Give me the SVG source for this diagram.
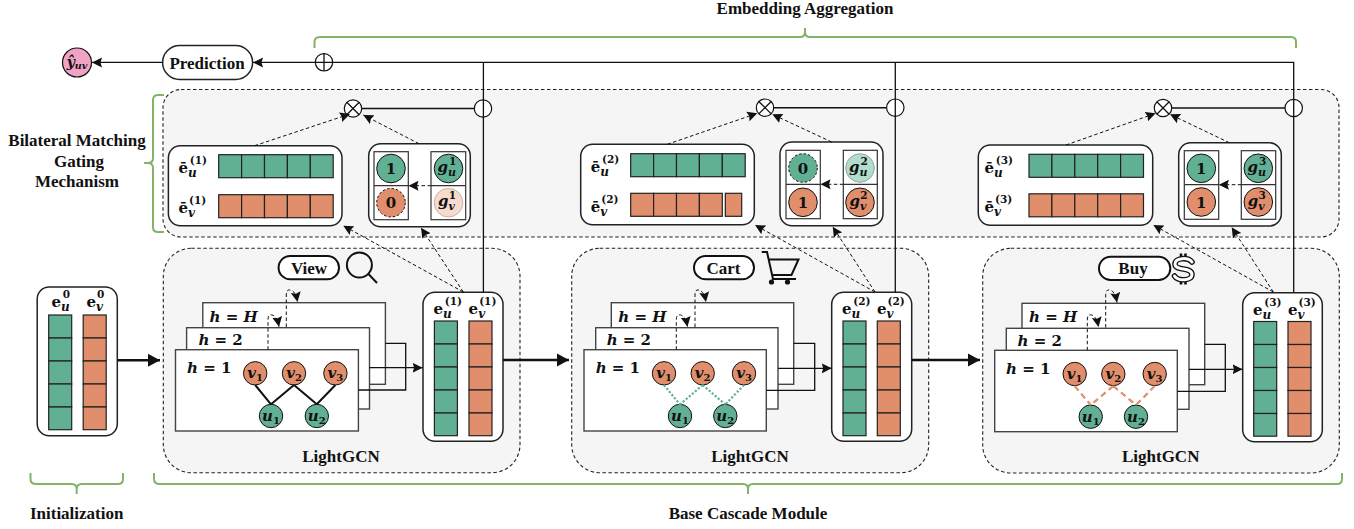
<svg xmlns="http://www.w3.org/2000/svg" xmlns:xlink="http://www.w3.org/1999/xlink" width="1354" height="529" viewBox="0 0 1354 529">
<style>
text{font-family:"Liberation Serif",serif;font-weight:bold;fill:#111;font-size:17px;text-anchor:middle}
.m,.ml{font-family:"DejaVu Serif",serif;font-size:15px}
.ml{text-anchor:start}
.i{font-style:italic}
.hl{font-family:"DejaVu Serif",serif;font-style:italic;font-size:15px;text-anchor:start}
.up{font-style:normal}
.sb{font-size:12px;font-style:italic}
.sp{font-size:10.5px;font-style:normal}
.c{font-family:"DejaVu Serif",serif;font-size:15px}
.panel{fill:#f5f5f5;stroke:#222;stroke-width:1.1;stroke-dasharray:3.5 2.5}
.card{fill:#fff;stroke:#222;stroke-width:1.5}
.layer{fill:#fff;stroke:#444;stroke-width:1.4}
.pill{fill:#fff;stroke:#111;stroke-width:2}
.G{fill:#62b094}.O{fill:#e08e6b}
.cell{stroke:#222;stroke-width:1.2}
.gf{fill:#62b094;stroke:#111;stroke-width:1}
.of{fill:#e08e6b;stroke:#111;stroke-width:1}
.dash{stroke-dasharray:2.5 2}
.fg{fill:#b2dccb;stroke:#8fa89c;stroke-width:1}
.fo{fill:#f6dbce;stroke:#c9b0a5;stroke-width:1}
.slot{fill:none;stroke:#333;stroke-width:1.2}
.op{fill:#fff;stroke:#111;stroke-width:1.2}
.brace{fill:none;stroke:#82b366;stroke-width:2}
.ln{fill:none;stroke:#111;stroke-width:1.3}
.ln2{fill:none;stroke:#111;stroke-width:2.6}
.ds{fill:none;stroke:#111;stroke-width:1;stroke-dasharray:3.5 2.5}
.sol{fill:none;stroke:#111;stroke-width:1.4}
.ed{fill:none;stroke:#111;stroke-width:2}
.edg{fill:none;stroke:#62b094;stroke-width:2.2;stroke-dasharray:2.2 1.8}
.edo{fill:none;stroke:#e08e6b;stroke-width:2.2;stroke-dasharray:6 4}
.icon{fill:none;stroke:#111;stroke-width:2}
</style>
<defs>
<marker id="a" markerUnits="userSpaceOnUse" markerWidth="11" markerHeight="11" refX="10" refY="5.5" orient="auto"><path d="M0,0.5 L10,5.5 L0,10.5 L1.5,5.5z" fill="#111"/></marker>
<marker id="b" markerUnits="userSpaceOnUse" markerWidth="13" markerHeight="14" refX="12" refY="7" orient="auto"><path d="M0,0.5 L12,7 L0,13.5z" fill="#111"/></marker>
<g id="col"><rect class="cell" width="23" height="23"/><rect class="cell" y="23" width="23" height="23"/><rect class="cell" y="46" width="23" height="23"/><rect class="cell" y="69" width="23" height="23"/><rect class="cell" y="92" width="23" height="22.7"/></g>
<g id="row"><rect class="cell" width="22.9" height="23"/><rect class="cell" x="22.9" width="22.9" height="23"/><rect class="cell" x="45.8" width="22.9" height="23"/><rect class="cell" x="68.7" width="22.9" height="23"/><rect class="cell" x="91.6" width="22.9" height="23"/></g>
</defs>

<g id="title"><text x="805" y="14">Embedding Aggregation</text></g>
<g id="brace-top"><path class="brace" d="M314.5,48V42Q314.5,37 320,37H800Q805,37 805,32V28M805,32Q805,37 810,37H1291Q1296,37 1296,42V48"/></g>
<g id="brace-left"><path class="brace" d="M164,95H158Q153,95 153,100V158Q153,163 148,163H144M148,163Q153,163 153,168V227Q153,232 158,232H164"/></g>
<g id="brace-init"><path class="brace" d="M30.5,473V479Q30.5,484 36,484H71.7Q76.7,484 76.7,489V494M76.7,489Q76.7,484 81.7,484H118Q123,484 123,479V473"/></g>
<g id="brace-base"><path class="brace" d="M154,473V479Q154,484 160,484H743Q748,484 748,489V494M748,489Q748,484 753,484H1337Q1342,484 1342,479V473"/></g>
<g id="label-bmgm"><text x="77" y="146">Bilateral Matching</text><text x="79" y="167">Gating</text><text x="77" y="187">Mechanism</text></g>
<g id="label-init"><text x="76.7" y="518.5">Initialization</text></g>
<g id="label-base"><text x="748" y="518.5">Base Cascade Module</text></g>

<g id="y-hat"><circle cx="77" cy="62.5" r="14.5" fill="#f0a3c5" stroke="#111" stroke-width="1.2"/><text class="c" x="77" y="67" style="font-size:14px"><tspan class="i">ŷ</tspan><tspan class="sb" dy="2" style="font-size:9.5px">uv</tspan></text></g>
<g id="prediction"><rect class="card" x="162.6" y="45.5" width="90" height="34" rx="17"/><text x="207" y="69">Prediction</text></g>
<g id="oplus"><circle class="op" cx="324" cy="62.3" r="8.7"/><path class="ln" d="M324,53.6V71M315.3,62.3H332.7"/></g>

<g id="gating-panel"><rect class="panel" x="163" y="89.5" width="1176" height="147.5" rx="18"/></g>
<g id="gcn-panel-1"><rect class="panel" x="163.3" y="248.3" width="356.7" height="224.4" rx="28"/><text x="341" y="461.5">LightGCN</text></g>
<g id="gcn-panel-2"><rect class="panel" x="571.7" y="248.3" width="357" height="224.4" rx="28"/><text x="750" y="461.5">LightGCN</text></g>
<g id="gcn-panel-3"><rect class="panel" x="982.7" y="248.3" width="356.6" height="224.7" rx="28"/><text x="1160.7" y="461.5">LightGCN</text></g>

<g id="init">
<rect class="card" x="37.2" y="287" width="80.1" height="148.7" rx="12"/>
<use href="#col" class="G" x="48.7" y="315"/><use href="#col" class="O" x="83.2" y="315"/>
<text class="ml" x="51.5" y="306.5">e<tspan class="sb" dy="4">u</tspan><tspan class="sp" dx="-7" dy="-13">0</tspan></text>
<text class="ml" x="86.5" y="306.5">e<tspan class="sb" dy="4">v</tspan><tspan class="sp" dx="-6" dy="-13">0</tspan></text>
</g>

<g id="view"><rect class="pill" x="278.6" y="256" width="60.4" height="23.3" rx="11.6"/><text x="309" y="273.5">View</text></g>
<g id="view-icon"><circle class="icon" cx="359.4" cy="265" r="12.5"/><path class="icon" d="M368,273.5L377,283"/></g>
<g id="layers-1">
<rect class="layer" x="202.8" y="302.7" width="182.6" height="81.6"/><text class="hl" x="209.6" y="321.7">h = H</text>
<rect class="layer" x="186.6" y="327.7" width="182.9" height="81.3"/><text class="hl" x="198.4" y="345">h = <tspan class="up">2</tspan></text>
<rect class="layer" x="175.5" y="349.7" width="182.9" height="81.3"/><text class="hl" x="187" y="372.7">h = <tspan class="up">1</tspan></text>
</g>
<g id="graph-1">
<circle class="of" cx="255.2" cy="373.3" r="11.7"/><text class="c i" x="255.2" y="378">v<tspan class="up" dy="3" style="font-size:10px">1</tspan></text>
<circle class="of" cx="294" cy="373.3" r="11.7"/><text class="c i" x="294" y="378">v<tspan class="up" dy="3" style="font-size:10px">2</tspan></text>
<circle class="of" cx="335.4" cy="373.3" r="11.7"/><text class="c i" x="335.4" y="378">v<tspan class="up" dy="3" style="font-size:10px">3</tspan></text>
<circle class="gf" cx="271" cy="416" r="11.7"/><text class="c i" x="271" y="421">u<tspan class="up" dy="3" style="font-size:10px">1</tspan></text>
<circle class="gf" cx="316.8" cy="416" r="11.7"/><text class="c i" x="316.8" y="421">u<tspan class="up" dy="3" style="font-size:10px">2</tspan></text>
</g>
<g id="emb-1">
<rect class="card" x="423" y="292.3" width="80" height="149" rx="12"/>
<use href="#col" class="G" x="434.4" y="321"/><use href="#col" class="O" x="469" y="321"/>
<text class="ml" x="433.4" y="314">e<tspan class="sb" dy="4">u</tspan><tspan class="sp" dx="-7" dy="-13">(1)</tspan></text>
<text class="ml" x="468.6" y="314">e<tspan class="sb" dy="4">v</tspan><tspan class="sp" dx="-6" dy="-13">(1)</tspan></text>
</g>
<g id="bar-card-1">
<rect class="card" x="168.4" y="145.7" width="173.6" height="80" rx="12"/>
<use href="#row" class="G" x="218.7" y="154.7"/><use href="#row" class="O" x="218.7" y="194.7"/>
<text class="ml" x="178.5" y="173">ē<tspan class="sb" dy="4">u</tspan><tspan class="sp" dx="-7" dy="-13">(1)</tspan></text>
<text class="ml" x="178.5" y="213">ē<tspan class="sb" dy="4">v</tspan><tspan class="sp" dx="-6" dy="-13">(1)</tspan></text>
</g>
<g id="gate-1">
<rect class="card" x="368.7" y="143.7" width="101.6" height="83" rx="12"/>
<rect class="slot" x="374" y="151.7" width="34.3" height="68"/><path class="slot" d="M374,185.7H408.3"/>
<rect class="slot" x="431" y="151.7" width="34.7" height="68"/><path class="slot" d="M431,185.7H465.7"/>
<circle class="gf" cx="391" cy="168.5" r="14.3"/><text class="c" x="391" y="174">1</text>
<circle class="of dash" cx="391" cy="202.7" r="14.3"/><text class="c" x="391" y="208">0</text>
<circle class="gf" cx="448.5" cy="168.5" r="14.3"/><text class="c" x="447" y="172"><tspan class="i">g</tspan><tspan class="sb" dy="4" style="font-size:11px">u</tspan><tspan class="sp" dx="-7" dy="-11">1</tspan></text>
<circle class="fo" cx="448.5" cy="202.7" r="14.3"/><text class="c" x="447" y="206"><tspan class="i">g</tspan><tspan class="sb" dy="4" style="font-size:11px">v</tspan><tspan class="sp" dx="-6" dy="-11">1</tspan></text>
</g>
<g id="otimes-1"><circle class="op" cx="353" cy="108.5" r="8.7"/><path class="ln" d="M346.8,102.3L359.2,114.7M359.2,102.3L346.8,114.7"/></g>
<g id="gate-node-1"><circle class="op" cx="483" cy="108.5" r="8.7"/></g>

<g id="cart"><rect class="pill" x="694" y="256" width="60" height="23.3" rx="11.6"/><text x="723.5" y="273.5">Cart</text></g>
<g id="cart-icon"><path class="icon" d="M761.7,252H767L773,279H796M768,259.5H798.5L791.5,275H772"/><circle cx="771.5" cy="282" r="2.6" fill="#111"/><circle cx="787.5" cy="282" r="2.6" fill="#111"/></g>
<g id="layers-2">
<rect class="layer" x="611.3" y="302.7" width="182.4" height="81.6"/><text class="hl" x="618.3" y="321.7">h = H</text>
<rect class="layer" x="595.7" y="327.7" width="182.3" height="81.3"/><text class="hl" x="606.7" y="345">h = <tspan class="up">2</tspan></text>
<rect class="layer" x="584" y="349.7" width="182.3" height="81.3"/><text class="hl" x="595.7" y="372.7">h = <tspan class="up">1</tspan></text>
</g>
<g id="graph-2">
<circle class="of" cx="664" cy="373.3" r="11.7"/><text class="c i" x="664" y="378">v<tspan class="up" dy="3" style="font-size:10px">1</tspan></text>
<circle class="of" cx="702.7" cy="373.3" r="11.7"/><text class="c i" x="702.7" y="378">v<tspan class="up" dy="3" style="font-size:10px">2</tspan></text>
<circle class="of" cx="744" cy="373.3" r="11.7"/><text class="c i" x="744" y="378">v<tspan class="up" dy="3" style="font-size:10px">3</tspan></text>
<circle class="gf" cx="680" cy="416" r="11.7"/><text class="c i" x="680" y="421">u<tspan class="up" dy="3" style="font-size:10px">1</tspan></text>
<circle class="gf" cx="725.3" cy="416" r="11.7"/><text class="c i" x="725.3" y="421">u<tspan class="up" dy="3" style="font-size:10px">2</tspan></text>
</g>
<g id="emb-2">
<rect class="card" x="831.7" y="292.3" width="80" height="149" rx="12"/>
<use href="#col" class="G" x="843" y="321"/><use href="#col" class="O" x="877.3" y="321"/>
<text class="ml" x="842" y="314">e<tspan class="sb" dy="4">u</tspan><tspan class="sp" dx="-7" dy="-13">(2)</tspan></text>
<text class="ml" x="877" y="314">e<tspan class="sb" dy="4">v</tspan><tspan class="sp" dx="-6" dy="-13">(2)</tspan></text>
</g>
<g id="bar-card-2">
<rect class="card" x="580.7" y="144.3" width="173.6" height="80.4" rx="12"/>
<use href="#row" class="G" x="630.7" y="153.7"/>
<g class="O"><rect class="cell" x="630.7" y="193.3" width="22.9" height="23"/><rect class="cell" x="653.6" y="193.3" width="22.9" height="23"/><rect class="cell" x="676.5" y="193.3" width="22.9" height="23"/><rect class="cell" x="699.4" y="193.3" width="22.9" height="23"/><rect class="cell" x="725.3" y="193.3" width="16.4" height="23"/></g>
<text class="ml" x="590.7" y="172.3">ē<tspan class="sb" dy="4">u</tspan><tspan class="sp" dx="-7" dy="-13">(2)</tspan></text>
<text class="ml" x="590.7" y="212">ē<tspan class="sb" dy="4">v</tspan><tspan class="sp" dx="-6" dy="-13">(2)</tspan></text>
</g>
<g id="gate-2">
<rect class="card" x="780" y="142" width="103" height="83.7" rx="12"/>
<rect class="slot" x="786" y="150.3" width="34.3" height="68.4"/><path class="slot" d="M786,184.3H820.3"/>
<rect class="slot" x="843.3" y="150.3" width="34" height="68.4"/><path class="slot" d="M843.3,184.3H877.3"/>
<circle class="gf dash" cx="803" cy="168" r="14.3"/><text class="c" x="803" y="173.5">0</text>
<circle class="of" cx="803" cy="202.3" r="14.3"/><text class="c" x="803" y="207.5">1</text>
<circle class="fg" cx="860" cy="168" r="14.3"/><text class="c" x="858.5" y="171.5"><tspan class="i">g</tspan><tspan class="sb" dy="4" style="font-size:11px">u</tspan><tspan class="sp" dx="-7" dy="-11">2</tspan></text>
<circle class="of" cx="860" cy="202.3" r="14.3"/><text class="c" x="858.5" y="205.5"><tspan class="i">g</tspan><tspan class="sb" dy="4" style="font-size:11px">v</tspan><tspan class="sp" dx="-6" dy="-11">2</tspan></text>
</g>
<g id="otimes-2"><circle class="op" cx="765" cy="107.7" r="8.7"/><path class="ln" d="M758.8,101.5L771.2,113.9M771.2,101.5L758.8,113.9"/></g>
<g id="gate-node-2"><circle class="op" cx="895.3" cy="107.7" r="8.7"/></g>

<g id="buy"><rect class="pill" x="1099" y="256.7" width="71.3" height="23.3" rx="11.6"/><text x="1133" y="274">Buy</text></g>
<g id="buy-icon"><path d="M1181,253.5V259M1185.5,253.5V259M1181,279V284.5M1185.5,279V284.5" fill="none" stroke="#111" stroke-width="2.6"/><path d="M1192,262C1188,257 1175,257.5 1175,264C1175,271.5 1192,266.5 1192,274.5C1192,281 1178,281.5 1174.5,276" fill="none" stroke="#111" stroke-width="5.6" stroke-linecap="round"/><path d="M1192,262C1188,257 1175,257.5 1175,264C1175,271.5 1192,266.5 1192,274.5C1192,281 1178,281.5 1174.5,276" fill="none" stroke="#fff" stroke-width="3" stroke-linecap="round"/></g>
<g id="layers-3">
<rect class="layer" x="1022" y="303.3" width="182.7" height="81.4"/><text class="hl" x="1029" y="321.7">h = H</text>
<rect class="layer" x="1006.3" y="328.3" width="182.7" height="81"/><text class="hl" x="1017.5" y="346">h = <tspan class="up">2</tspan></text>
<rect class="layer" x="994.7" y="350.3" width="182.6" height="81.4"/><text class="hl" x="1006" y="373.5">h = <tspan class="up">1</tspan></text>
</g>
<g id="graph-3">
<circle class="of" cx="1074.7" cy="374" r="11.7"/><text class="c i" x="1074.7" y="378.7">v<tspan class="up" dy="3" style="font-size:10px">1</tspan></text>
<circle class="of" cx="1113.3" cy="374" r="11.7"/><text class="c i" x="1113.3" y="378.7">v<tspan class="up" dy="3" style="font-size:10px">2</tspan></text>
<circle class="of" cx="1154.7" cy="374" r="11.7"/><text class="c i" x="1154.7" y="378.7">v<tspan class="up" dy="3" style="font-size:10px">3</tspan></text>
<circle class="gf" cx="1090.7" cy="416.7" r="11.7"/><text class="c i" x="1090.7" y="421.7">u<tspan class="up" dy="3" style="font-size:10px">1</tspan></text>
<circle class="gf" cx="1136" cy="416.7" r="11.7"/><text class="c i" x="1136" y="421.7">u<tspan class="up" dy="3" style="font-size:10px">2</tspan></text>
</g>
<g id="emb-3">
<rect class="card" x="1242.7" y="292.7" width="79.6" height="149" rx="12"/>
<use href="#col" class="G" x="1253.7" y="321.5"/><use href="#col" class="O" x="1288" y="321.5"/>
<text class="ml" x="1253" y="314.5">e<tspan class="sb" dy="4">u</tspan><tspan class="sp" dx="-7" dy="-13">(3)</tspan></text>
<text class="ml" x="1288" y="314.5">e<tspan class="sb" dy="4">v</tspan><tspan class="sp" dx="-6" dy="-13">(3)</tspan></text>
</g>
<g id="bar-card-3">
<rect class="card" x="978.3" y="145" width="174.4" height="80.3" rx="12"/>
<use href="#row" class="G" x="1029" y="154.3"/><use href="#row" class="O" x="1029" y="193.8"/>
<text class="ml" x="984.5" y="172.5">ē<tspan class="sb" dy="4">u</tspan><tspan class="sp" dx="-7" dy="-13">(3)</tspan></text>
<text class="ml" x="984.5" y="212">ē<tspan class="sb" dy="4">v</tspan><tspan class="sp" dx="-6" dy="-13">(3)</tspan></text>
</g>
<g id="gate-3">
<rect class="card" x="1178.7" y="142.7" width="102.6" height="83.3" rx="12"/>
<rect class="slot" x="1184.3" y="150.7" width="34.4" height="68.6"/><path class="slot" d="M1184.3,184.7H1218.7"/>
<rect class="slot" x="1241.3" y="150.7" width="34.4" height="68.6"/><path class="slot" d="M1241.3,184.7H1275.7"/>
<circle class="gf" cx="1201.3" cy="168.3" r="14.3"/><text class="c" x="1201.3" y="173.5">1</text>
<circle class="of" cx="1201.3" cy="202" r="14.3"/><text class="c" x="1201.3" y="207.5">1</text>
<circle class="gf" cx="1258.3" cy="168.3" r="14.3"/><text class="c" x="1256.8" y="171.5"><tspan class="i">g</tspan><tspan class="sb" dy="4" style="font-size:11px">u</tspan><tspan class="sp" dx="-7" dy="-11">3</tspan></text>
<circle class="of" cx="1258.3" cy="202" r="14.3"/><text class="c" x="1256.8" y="205.5"><tspan class="i">g</tspan><tspan class="sb" dy="4" style="font-size:11px">v</tspan><tspan class="sp" dx="-6" dy="-11">3</tspan></text>
</g>
<g id="otimes-3"><circle class="op" cx="1163" cy="108" r="8.7"/><path class="ln" d="M1156.8,101.8L1169.2,114.2M1169.2,101.8L1156.8,114.2"/></g>
<g id="gate-node-3"><circle class="op" cx="1293.7" cy="108" r="8.7"/></g>

<g id="connectors">
<path class="ln" d="M162.6,62.4H92" marker-end="url(#a)"/>
<path class="ln" d="M315.3,62.4H253" marker-end="url(#a)"/>
<path class="ln" d="M332.7,62.3H1293.7V292.7"/>
<path class="ln" d="M483.4,62.3V292.3"/>
<path class="ln" d="M895.3,62.3V292.3"/>
<path class="sol" d="M361.7,108.5H474.3"/>
<path class="sol" d="M773.7,107.7H886.6"/>
<path class="sol" d="M1171.7,108H1285"/>
<path class="ln2" d="M117.3,360.3H160" marker-end="url(#b)"/>
<path class="ln2" d="M503,360H569" marker-end="url(#b)"/>
<path class="ln2" d="M911.7,360H980" marker-end="url(#b)"/>

<path class="ds" d="M254.6,145.7L350,114" marker-end="url(#a)"/>
<path class="ds" d="M419,143.7L363.3,115" marker-end="url(#a)"/>
<path class="ds" d="M431,185.7H408.5" marker-end="url(#a)"/>
<path class="ds" d="M463.3,292L343.3,225.7" marker-end="url(#a)"/>
<path class="ds" d="M463.3,292L421,227.7" marker-end="url(#a)"/>
<path class="ds" d="M268,349.7V320Q268,314 272,315Q277,316 279,326.7" marker-end="url(#a)"/>
<path class="ds" d="M286.3,327V295Q286.3,289 290.5,290Q295.5,291 297.5,302" marker-end="url(#a)"/>
<path class="ln" d="M385.4,343.3H405.7V390H358.4"/>
<path class="ln" d="M369.5,367.7H422.6" marker-end="url(#a)"/>
<path class="ed" d="M255.2,385L271,404.3M294,385L271,404.3M294,385L316.8,404.3M335.4,385L316.8,404.3"/>

<path class="ds" d="M667.3,144.3L757.3,113.3" marker-end="url(#a)"/>
<path class="ds" d="M831.7,142L772.3,114.3" marker-end="url(#a)"/>
<path class="ds" d="M843.3,184.3H820.5" marker-end="url(#a)"/>
<path class="ds" d="M875,292L755,225" marker-end="url(#a)"/>
<path class="ds" d="M875,292L832.7,226.7" marker-end="url(#a)"/>
<path class="ds" d="M676.3,349.7V320Q676.3,314 680.5,315Q685.5,316 687.5,326.7" marker-end="url(#a)"/>
<path class="ds" d="M695,327V295Q695,289 699,290Q704,291 706,302" marker-end="url(#a)"/>
<path class="ln" d="M793.7,343.3H814.7V390.3H766.3"/>
<path class="ln" d="M778,368.3H831.7" marker-end="url(#a)"/>
<path class="edg" d="M664,385L680,404.5M702.7,385L680,404.5M702.7,385L725.3,404.5M744,385L725.3,404.5"/>

<path class="ds" d="M1066,145L1155.7,113.3" marker-end="url(#a)"/>
<path class="ds" d="M1229.3,142.7L1170,114.3" marker-end="url(#a)"/>
<path class="ds" d="M1241.3,184.7H1218.9" marker-end="url(#a)"/>
<path class="ds" d="M1273.3,292L1153.3,225" marker-end="url(#a)"/>
<path class="ds" d="M1273.3,292L1231.7,227.3" marker-end="url(#a)"/>
<path class="ds" d="M1087.3,350.3V320Q1087.3,314 1091.5,315Q1096.5,316 1098.5,327" marker-end="url(#a)"/>
<path class="ds" d="M1105.7,327.5V295Q1105.7,289 1110,290Q1115,291 1117,302.5" marker-end="url(#a)"/>
<path class="ln" d="M1204.7,344.3H1225.3V391.3H1177.3"/>
<path class="ln" d="M1189,369.3H1242.5" marker-end="url(#a)"/>
<path class="edo" d="M1074.7,386L1090.7,405M1113.3,386L1090.7,405M1113.3,386L1136,405M1154.7,386L1136,405"/>
</g>
</svg>
